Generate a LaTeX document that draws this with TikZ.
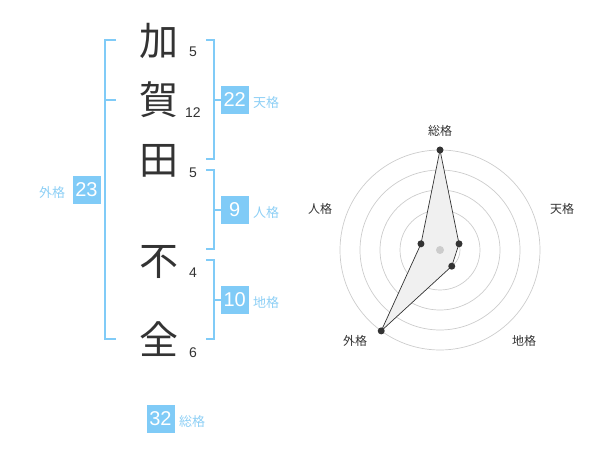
\documentclass[tikz,border=0pt]{standalone}
\usepackage{fontspec}
\setmainfont{Liberation Sans}
\newfontfamily\cjk{Noto Sans CJK JP}
\definecolor{txt}{HTML}{333333}
\definecolor{blu}{HTML}{80CBF7}
\definecolor{lbl}{HTML}{8DCFF5}
\definecolor{grid}{HTML}{CCCCCC}
\tikzset{
 kanji/.style={font=\cjk\fontsize{39}{39}\selectfont, text=txt, inner sep=0},
 strokes/.style={font=\fontsize{14}{14}\selectfont, text=txt, inner sep=0},
 valbox/.style={fill=blu, text=white, minimum size=28pt, inner sep=0, font=\fontsize{20}{20}\selectfont},
 kaku/.style={font=\cjk\fontsize{13}{13}\selectfont, text=lbl, inner sep=0},
 brk/.style={draw=blu, line width=2pt},
 ring/.style={draw=grid, line width=0.7pt},
 axlbl/.style={font=\cjk\fontsize{12}{12}\selectfont, text=txt, inner sep=0},
 dot/.style={circle, fill=txt, minimum size=7pt, inner sep=0},
}
\begin{document}
\begin{tikzpicture}[x=1pt,y=1pt]
\useasboundingbox (0,0) rectangle (600,-470);
% kanji
\node[kanji] (k1) at (159,-41) {加};
\node[kanji] (k2) at (159,-100) {賀};
\node[kanji] (k3) at (159,-161) {田};
\node[kanji] (k4) at (159,-262) {不};
\node[kanji] (k5) at (159,-339) {全};
% stroke counts
\node[strokes] (s1) at (193,-52) {5};
\node[strokes] (s2) at (193,-113) {12};
\node[strokes] (s3) at (193,-173) {5};
\node[strokes] (s4) at (193,-273) {4};
\node[strokes] (s5) at (193,-353) {6};
% brackets
\draw[brk] (116,-40) -- (105,-40) -- (105,-339) -- (116,-339);
\draw[brk] (105,-100) -- (116,-100);
\draw[brk] (206,-40) -- (214,-40) -- (214,-159) -- (206,-159);
\draw[brk] (214,-100) -- (221,-100);
\draw[brk] (206,-170) -- (214,-170) -- (214,-249) -- (206,-249);
\draw[brk] (214,-210) -- (221,-210);
\draw[brk] (206,-260) -- (214,-260) -- (214,-339) -- (206,-339);
\draw[brk] (214,-300) -- (221,-300);
% value boxes
\node[valbox] (b1) at (234.7,-100) {22};
\node[kaku, anchor=west] (l1) at (253,-103) {天格};
\node[valbox] (b2) at (234.7,-210) {9};
\node[kaku, anchor=west] (l2) at (253,-213) {人格};
\node[valbox] (b3) at (234.7,-300) {10};
\node[kaku, anchor=west] (l3) at (253,-303) {地格};
\node[valbox] (b4) at (86.5,-190) {23};
\node[kaku] (l4) at (52,-193) {外格};
\node[valbox] (b5) at (160.5,-419) {32};
\node[kaku, anchor=west] (l5) at (179,-422) {総格};
% radar
\begin{scope}[shift={(440,-250)}]
\foreach \r in {20,40,60,80,100} \draw[ring] (0,0) circle (\r);
\coordinate (pA) at (90:100);
\coordinate (pB) at (18:20);
\coordinate (pC) at (-54:20);
\coordinate (pD) at (-126:100);
\coordinate (pE) at (162:20);
\draw[fill=black!6, draw=txt, line width=0.7pt] (pA) -- (pB) -- (pC) -- (pD) -- (pE) -- cycle;
\node[circle, fill=grid, minimum size=8pt, inner sep=0] (ctr) at (0,0) {};
\node[dot] (dA) at (pA) {};
\node[dot] (dB) at (pB) {};
\node[dot] (dC) at (pC) {};
\node[dot] (dD) at (pD) {};
\node[dot] (dE) at (pE) {};
\node[axlbl] (aA) at (0,119) {総格};
\node[axlbl] (aB) at (122,41) {天格};
\node[axlbl] (aC) at (84,-91) {地格};
\node[axlbl] (aD) at (-85,-91) {外格};
\node[axlbl] (aE) at (-120,41) {人格};
\end{scope}
\end{tikzpicture}
\end{document}
